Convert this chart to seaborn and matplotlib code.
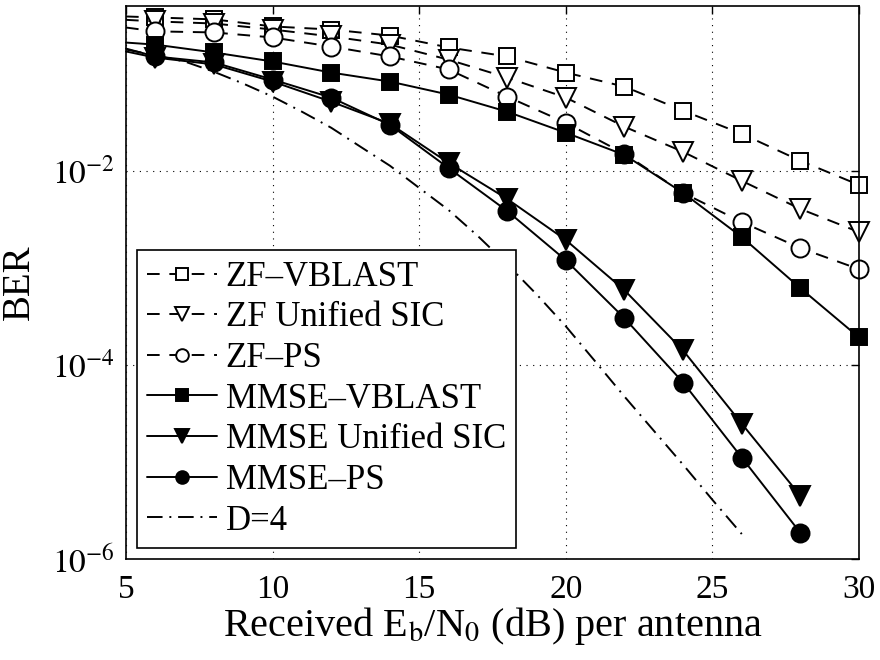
import numpy as np
import pandas as pd
import matplotlib
matplotlib.use("Agg")
import matplotlib.pyplot as plt
import seaborn as sns
from matplotlib.ticker import FixedLocator, FuncFormatter, NullLocator

# ---- data ----
# x = 5 point carries the line only (no marker drawn there)
snr = [5, 6, 8, 10, 12, 14, 16, 18, 20, 22, 24, 26, 28, 30]
zf_vblast = [0.39, 0.381, 0.364, 0.308, 0.286, 0.248, 0.187, 0.151, 0.103, 0.0738, 0.0417, 0.0241, 0.0127, 0.00716]
zf_usic = [0.36, 0.347, 0.330, 0.286, 0.243, 0.200, 0.140, 0.0914, 0.0569, 0.0285, 0.0157, 0.00789, 0.00405, 0.00234]
zf_ps = [0.30, 0.274, 0.267, 0.237, 0.191, 0.151, 0.111, 0.0582, 0.0313, 0.0150, 0.00593, 0.00297, 0.00160, 0.00097]
mmse_vblast = [0.210, 0.200, 0.166, 0.134, 0.103, 0.0832, 0.0611, 0.0407, 0.0247, 0.0146, 0.00593, 0.00208, 0.000618, 0.000192]
snr_mmse = [5, 6, 8, 10, 12, 14, 16, 18, 20, 22, 24, 26, 28]
mmse_usic = [0.170, 0.147, 0.125, 0.0832, 0.0516, 0.0306, 0.0121, 0.00514, 0.00194, 0.000589, 0.000141, 2.48e-5, 4.48e-6]
mmse_ps = [0.182, 0.151, 0.131, 0.0873, 0.0569, 0.0298, 0.0107, 0.00386, 0.00120, 0.000303, 6.59e-5, 1.11e-5, 1.86e-6]
snr_d4 = [5, 6, 7, 8, 9, 10, 11, 12, 13, 14, 15, 16, 17, 18, 19, 20, 21, 22, 23, 24, 25, 26]
d4 = [0.178, 0.155, 0.134, 0.105, 0.0793, 0.0582, 0.0407, 0.0278, 0.0177, 0.0113, 0.00667, 0.00395,
      0.00213, 0.00109, 0.000535, 0.000250, 0.000109, 4.72e-5, 2.10e-5, 9.37e-6, 4.07e-6, 1.81e-6]

labels = ["ZF\u2013VBLAST", "ZF Unified SIC", "ZF\u2013PS",
          "MMSE\u2013VBLAST", "MMSE Unified SIC", "MMSE\u2013PS", "D=4"]
x_ticks = [5, 10, 15, 20, 25, 30]
y_ticks = [1e-6, 1e-4, 1e-2]

# ---- style ----
sns.set_theme(style="white")
plt.rcParams["font.family"] = ["Liberation Serif", "DejaVu Serif"]
plt.rcParams["mathtext.fontset"] = "stix"
plt.rcParams["xtick.direction"] = "in"
plt.rcParams["ytick.direction"] = "in"

fig = plt.figure(figsize=(8.8, 6.6), dpi=100)
ax = fig.add_axes([0.1432, 0.153, 0.8330, 0.8379])

series = [
    (snr, zf_vblast, labels[0], "s", "white", "dash", 12),
    (snr, zf_usic, labels[1], "v", "white", "dash", 14),
    (snr, zf_ps, labels[2], "o", "white", "dash", 13),
    (snr, mmse_vblast, labels[3], "s", "black", "solid", 12),
    (snr_mmse, mmse_usic, labels[4], "v", "black", "solid", 14),
    (snr_mmse, mmse_ps, labels[5], "o", "black", "solid", 13),
]

lw = 1.4
handles = []
for xs, ys, lab, mk, fc, ls, ms in series:
    df = pd.DataFrame({"x": xs, "y": ys})
    sns.lineplot(data=df, x="x", y="y", ax=ax, color="black", marker=mk,
                 markersize=ms, markerfacecolor=fc, markeredgecolor="black",
                 markeredgewidth=1.4, linewidth=lw, label=lab, legend=False,
                 markevery=list(range(1, len(xs))), clip_on=False)
    line = ax.lines[-1]
    if ls == "dash":
        line.set_dashes((6.5, 5))
    handles.append(line)

df = pd.DataFrame({"x": snr_d4, "y": d4})
sns.lineplot(data=df, x="x", y="y", ax=ax, color="black", linewidth=lw,
             label=labels[6], legend=False)
dl = ax.lines[-1]
dl.set_dashes((8, 3.5, 1, 3.5))
handles.append(dl)

ax.set_yscale("log")
ax.set_xlim(5, 30)
ax.set_ylim(1e-6, 0.5)
ax.xaxis.set_major_locator(FixedLocator(x_ticks))
ax.yaxis.set_major_locator(FixedLocator(y_ticks))
ax.yaxis.set_minor_locator(NullLocator())
ax.yaxis.set_major_formatter(FuncFormatter(lambda v, p: r"$10^{%d}$" % int(round(np.log10(v)))))
ax.tick_params(axis="both", which="major", labelsize=24, length=6, width=1.0,
               top=True, right=True, color="black", labelcolor="black", pad=8)
ax.tick_params(axis="x", pad=11)
ax.grid(True, which="major", color="black", linestyle=(0, (1, 5)), linewidth=0.8)
for s in ax.spines.values():
    s.set_visible(True)
    s.set_color("black")
    s.set_linewidth(1.2)
    s.set_zorder(5)

ax.set_xlabel(r"Received E$_\mathrm{b}$/N$_0$ (dB) per antenna", fontsize=29, color="black", labelpad=0)
ax.set_ylabel("BER", fontsize=28, color="black", labelpad=10)

leg = ax.legend(handles=handles, labels=labels, loc="lower left",
                bbox_to_anchor=(0.015, 0.02), borderaxespad=0, fontsize=25,
                frameon=True, fancybox=False, shadow=False, framealpha=1,
                edgecolor="black", handlelength=2.0, labelspacing=0.22,
                handletextpad=0.25, borderpad=0.3, markerscale=0.7)
leg.get_frame().set_linewidth(1.2)
leg.set_zorder(10)
for t in leg.get_texts():
    t.set_color("black")

fig.savefig("out.png", dpi=100, facecolor="white")
